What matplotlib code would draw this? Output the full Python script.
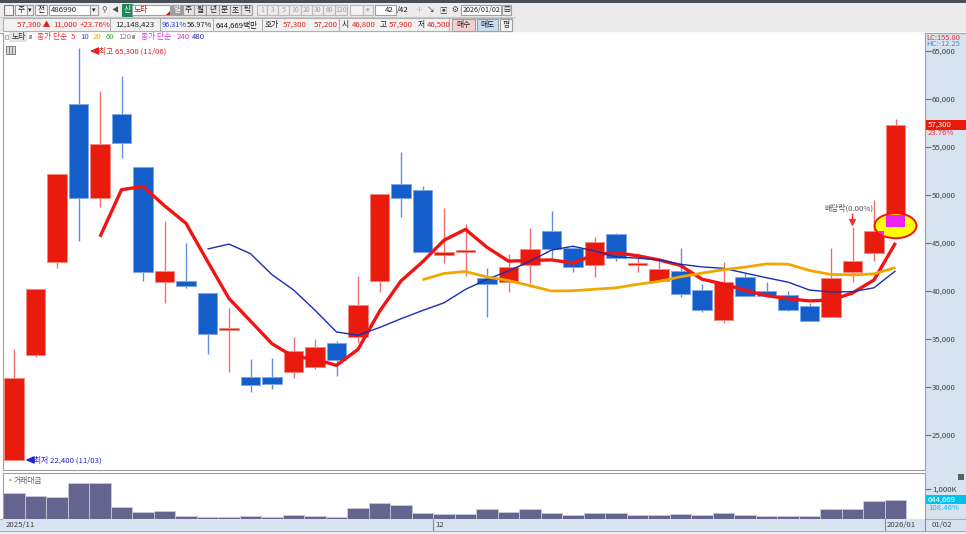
import numpy as np
import pandas as pd
import matplotlib
matplotlib.use("Agg")
import matplotlib.pyplot as plt
from matplotlib.patches import Rectangle, Ellipse, Polygon
from matplotlib.transforms import blended_transform_factory as blend

plt.rcParams['font.family'] = ['Noto Sans CJK KR', 'DejaVu Sans']

# ---------------- data ----------------
dates = ["2025/11/03", "2025/11/04", "2025/11/05", "2025/11/06", "2025/11/07",
         "2025/11/10", "2025/11/11", "2025/11/12", "2025/11/13", "2025/11/14",
         "2025/11/17", "2025/11/18", "2025/11/19", "2025/11/20", "2025/11/21",
         "2025/11/24", "2025/11/25", "2025/11/26", "2025/11/27", "2025/11/28",
         "2025/12/01", "2025/12/02", "2025/12/03", "2025/12/04", "2025/12/05",
         "2025/12/08", "2025/12/09", "2025/12/10", "2025/12/11", "2025/12/12",
         "2025/12/15", "2025/12/16", "2025/12/17", "2025/12/18", "2025/12/19",
         "2025/12/22", "2025/12/23", "2025/12/24", "2025/12/26", "2025/12/29",
         "2025/12/30", "2026/01/02"]
opens = [22400, 33350, 43000, 59450, 49650, 58400, 52900, 40950, 41000, 39750,
         36050, 31050, 31050, 31550, 32100, 34600, 35250, 41050, 51100, 50500,
         43800, 44150, 41400, 40950, 42750, 46200, 44450, 42750, 45950, 42800,
         41050, 42100, 40100, 37000, 41500, 39950, 39550, 38450, 37300, 42000,
         44000, 46800]
highs = [33950, 40200, 52200, 65300, 60850, 62400, 52900, 47300, 45000, 39750,
         38250, 32900, 33000, 35200, 35000, 34800, 41550, 50100, 54500, 50950,
         48600, 47000, 42350, 43850, 46600, 48350, 44600, 45650, 46000, 43950,
         43250, 44450, 40750, 43050, 41850, 40900, 39950, 38700, 44500, 46700,
         49500, 57900]
lows = [22400, 33150, 42350, 45200, 48700, 53900, 41050, 38700, 40300, 33450,
        31600, 29500, 29750, 30900, 31850, 31150, 34600, 39850, 47750, 44050,
        42900, 41550, 37300, 39850, 40850, 43400, 42000, 41500, 43150, 42000,
        41000, 39350, 37800, 36650, 39500, 39450, 37900, 36900, 37300, 40950,
        43150, 46500]
closes = [30900, 40200, 52200, 49650, 55300, 55400, 41950, 42100, 40500, 35500,
          36050, 30200, 30300, 33800, 34150, 32800, 38550, 50100, 49650, 44050,
          44100, 44200, 40750, 42450, 44400, 44400, 42550, 45150, 43450, 42800,
          42250, 39650, 38000, 40950, 39500, 39500, 38000, 36900, 41400, 43150,
          46300, 57300]
trade_value = [864000, 754000, 731000, 1196000, 1196000, 399000, 233000, 279000, 113000, 80000,
               56000, 90000, 56000, 123000, 90000, 56000, 356000, 522000, 455000, 199000,
               179000, 179000, 322000, 233000, 322000, 199000, 123000, 189000, 189000, 123000,
               123000, 156000, 123000, 189000, 123000, 90000, 90000, 90000, 322000, 322000,
               594400, 644669]
ma_periods = [5, 10, 20]
price_ticks = [25000, 30000, 35000, 40000, 45000, 50000, 55000, 60000, 65000]
exdiv_index = 39
signal_top = 47900

W, H = 966, 534
RED = "#e81b0c"
BLUE = "#135ec8"
RED_W = "#f07070"
BLUE_W = "#5f8fe0"
PANE = "#d8e3f0"
FS = 5.6

fig = plt.figure(figsize=(W / 100, H / 100), dpi=100)
fig.patch.set_facecolor("white")


def rect(x0, y0, x1, y1, fc, ec="none", lw=0.8, z=-1):
    fig.patches.append(Rectangle((x0 / W, 1 - y1 / H), (x1 - x0) / W, (y1 - y0) / H,
                                 transform=fig.transFigure, fc=fc, ec=ec, lw=lw, zorder=z))


def txt(x, y, s, color="#202020", size=FS, ha="left", va="center", z=5, **kw):
    fig.text(x / W, 1 - y / H, s, color=color, fontsize=size, ha=ha, va=va, zorder=z, **kw)


def hline(x0, x1, y, color, lw=0.8, z=-0.5):
    fig.add_artist(plt.Line2D([x0 / W, x1 / W], [1 - y / H, 1 - y / H], color=color, lw=lw,
                              transform=fig.transFigure, zorder=z))


def vline(x, y0, y1, color, lw=0.8, z=-0.5):
    fig.add_artist(plt.Line2D([x / W, x / W], [1 - y0 / H, 1 - y1 / H], color=color, lw=lw,
                              transform=fig.transFigure, zorder=z))


# ---------------- header ----------------
rect(0, 0, W, 3, "#4a4f57")
rect(0, 3, W, 32, "#ebebeb")
hline(0, W, 32.5, "#a8a8a8")
hline(0, 515, 17, "#c8c8c8")
# row 1
rect(4, 5, 13, 15, "#f4f4f4", "#808080")
rect(15, 5, 27, 15, "#f8f8f8", "#a0a0a0"); txt(21, 10, "주", ha="center")
rect(27, 5, 33, 15, "#f0f0f0", "#a0a0a0"); txt(30, 10, "▾", size=5, ha="center")
rect(35, 5, 47, 15, "#f8f8f8", "#a0a0a0"); txt(41, 10, "전", ha="center")
rect(49, 5, 90, 15, "white", "#a0a0a0"); txt(51, 10, "486990")
rect(90, 5, 98, 15, "#f0f0f0", "#a0a0a0"); txt(94, 10, "▾", size=5, ha="center")
rect(100, 5, 108, 15, "#f0f0f0", "none"); txt(104, 10, "⚲", ha="center", color="#505050")
rect(110, 5, 120, 15, "#f0f0f0", "none"); txt(115, 10, "◀", size=5, ha="center", color="#505050")
rect(122, 4, 132, 16, "#1e8a55", "#1e8a55"); txt(127, 10, "신", color="white", ha="center")
rect(132, 5, 170, 15, "white", "#a0a0a0"); txt(134, 10, "노타", color="#c01010")
fig.patches.append(Polygon([[166 / W, 1 - 15 / H], [170 / W, 1 - 15 / H], [170 / W, 1 - 11 / H]],
                           closed=True, transform=fig.transFigure, fc="#d01010", ec="none", zorder=0))
tabs = ["일", "주", "월", "년", "분", "초", "틱"]
tab_x = [171, 183, 194, 206, 219, 230, 241, 252]
for k, t in enumerate(tabs):
    sel = k == 0
    rect(tab_x[k], 5, tab_x[k + 1] - 0.5, 15, "#9c9c9c" if sel else "#e4e4e4", "#a0a0a0")
    txt((tab_x[k] + tab_x[k + 1]) / 2, 10, t, color="white" if sel else "#202020", ha="center")
nums = ["1", "3", "5", "10", "20", "30", "60", "120"]
num_x = [257, 267, 278, 289, 301, 312, 323, 335, 347]
for k, t in enumerate(nums):
    rect(num_x[k], 5, num_x[k + 1] - 0.5, 15, "#ececec", "#b8b8b8")
    txt((num_x[k] + num_x[k + 1]) / 2, 10, t, color="#a0a0a0", ha="center", size=5)
rect(350, 5, 363, 15, "#f4f4f4", "#b8b8b8")
rect(363, 5, 373, 15, "#ececec", "#b8b8b8"); txt(368, 10, "▾", size=5, ha="center", color="#a0a0a0")
rect(375, 5, 396, 15, "white", "#a0a0a0"); txt(394, 10, "42", ha="right")
txt(397, 10, "/42")
for xi in [414, 426, 438, 450]:
    rect(xi, 5, xi + 10, 15, "#ececec", "none")
txt(419, 10, "⊹", color="#909090", ha="center")
txt(431, 10, "↘", color="#404040", ha="center")
txt(443, 10, "▣", color="#404040", ha="center")
txt(455, 10, "⚙", color="#404040", ha="center")
rect(461, 5, 501, 15, "white", "#a0a0a0"); txt(462.5, 10, "2026/01/02", size=5.2)
rect(502, 5, 511, 15, "#f0f0f0", "#a0a0a0"); txt(506.5, 10, "▤", ha="center", size=5)
# row 2
rect(3, 18, 512, 31, "#f2f2f2", "#b0b0b0")
for xs in [110, 160, 213, 262, 339, 449]:
    vline(xs, 18, 31, "#b0b0b0", z=0)
txt(17, 25, "57,300 ▲", color="#e02020")
txt(53, 25, "11,000", color="#e02020")
txt(80, 25, "+23.76%", color="#e02020")
txt(115, 25, "12,148,423")
txt(162, 25, "96.31%", color="#2040d0", size=5.3)
txt(187, 25, "56.97%", size=5.3)
txt(216, 25, "644,669백만")
txt(265, 25, "호가")
txt(283, 25, "57,300", color="#e02020")
txt(314, 25, "57,200", color="#e02020")
txt(342, 25, "시")
txt(352, 25, "46,800", color="#e02020")
txt(380, 25, "고")
txt(389, 25, "57,900", color="#e02020")
txt(418, 25, "저")
txt(427, 25, "46,500", color="#e02020")
rect(452, 18.5, 475, 30.5, "#f3cfcf", "#a0a0a0", z=0); txt(463.5, 25, "매수", ha="center")
rect(477, 18.5, 498, 30.5, "#c9ddf2", "#a0a0a0", z=0); txt(487.5, 25, "매도", ha="center")
rect(500, 18.5, 512, 30.5, "#f4f4f4", "#a0a0a0", z=0); txt(506, 25, "평", ha="center")

# ---------------- panes ----------------
rect(925, 33, W, 531, PANE)
rect(0, 519, W, 531, PANE)
hline(0, W, 519, "#a0b0c0")
hline(0, W, 531, "#a0b0c0")
rect(0, 531, W, H, "#efefef")

n = len(closes)
x = np.arange(n)
o = np.array(opens, float); c = np.array(closes, float)
hi = np.array(highs, float); lo = np.array(lows, float)
vol = np.array(trade_value, float)

x0_px, x1_px = 3, 925
step_px, first_px = 21.5, 14
xlim = ((x0_px - first_px) / step_px, (x1_px - first_px) / step_px)


def p_of(y):  # pixel row -> price
    return 60000 - (y - 99) / 0.0096


ax = fig.add_axes([x0_px / W, 1 - 470 / H, (x1_px - x0_px) / W, (470 - 33) / H])
ax.set_xlim(*xlim)
ax.set_ylim(p_of(470), p_of(33))
ax.set_facecolor("white")

up = c >= o
min_h = 260
body_bot = np.minimum(o, c)
body_h = np.abs(c - o)
small = body_h < min_h
body_bot = np.where(small, body_bot - (min_h - body_h) / 2, body_bot)
body_h = np.where(small, min_h, body_h)
ax.vlines(x, lo, hi, colors=np.where(up, RED_W, BLUE_W), lw=1.0, zorder=2)
ax.bar(x, body_h, bottom=body_bot, width=0.93,
       color=np.where(up, RED, BLUE), edgecolor=np.where(up, "#f38a80", "#7ea6ea"),
       lw=0.7, zorder=3)

s = pd.Series(c)
ma_style = {5: ("#f21414", 2.4), 10: ("#1b2db0", 1.0), 20: ("#f0a800", 2.0)}
for p in ma_periods:
    col, lw = ma_style[p]
    ax.plot(x, s.rolling(p).mean(), color=col, lw=lw, zorder=4, solid_capstyle="butt")

# signal marker on last candle
last = n - 1
ax.add_patch(Ellipse((last, o[last]), 1.95, 2600, fc="#ffff00", ec="#ff1010", lw=1.4, zorder=5))
ax.add_patch(Rectangle((last - 0.465, o[last] - 100), 0.93, signal_top - o[last] + 100,
                       fc="#ee22ee", ec="none", zorder=6))
ax.add_patch(Polygon([[last - 1 + 0.2, c[last - 1] - 100], [last - 1 + 0.465, c[last - 1] - 100],
                      [last - 1 + 0.465, c[last - 1] - 650]], closed=True,
                     fc="#ee22ee", ec="none", zorder=6))

# high / low annotations
ih = int(np.argmax(hi)); il = int(np.argmin(lo))
for idx, val, col, lab, dy in [(ih, hi[ih], "#e82020", f"최고 {int(hi[ih]):,} ({dates[ih][5:]})", -3),
                                (il, lo[il], "#2020d0", f"최저 {int(lo[il]):,} ({dates[il][5:]})", 0)]:
    ax.annotate("", xy=(idx + 0.53, val + (dy * 100)), xytext=(idx + 0.53 + 9 / step_px, val + (dy * 100)),
                arrowprops=dict(arrowstyle="-|>,head_length=0.5,head_width=0.22", color=col, lw=1,
                                shrinkA=0, shrinkB=0), zorder=7)
    ax.annotate(lab, xy=(idx + 0.53, val), xytext=(9, dy), textcoords="offset pixels",
                color=col, fontsize=FS, va="center", ha="left", zorder=7)

# ex-dividend marker
ax.annotate("", xy=(exdiv_index, hi[exdiv_index]), xytext=(exdiv_index, hi[exdiv_index] + 1300),
            arrowprops=dict(arrowstyle="-|>,head_length=0.4,head_width=0.2", color="#f03030", lw=1,
                            shrinkA=0, shrinkB=0), zorder=7)
ax.annotate("배당락(0.00%)", xy=(exdiv_index, hi[exdiv_index]), xytext=(-4, 18),
            textcoords="offset pixels", color="#505050", fontsize=FS, ha="center", va="center")

# legend strip
rect(5, 35, 8, 38.5, "#f4f4f4", "#909090", lw=0.5, z=5)
rect(9, 32.5, 27, 41.5, "#e4e4e4", "none", z=5)
txt(12, 37, "노타", color="#303030")
rect(29, 35, 32, 38.5, "#a0a0a0", "none", z=5)
txt(37, 37, "종가 단순", color="#f03030")
txt(71, 37, "5", color="#f03030")
txt(80, 37, "10", color="#2f4fd0")
txt(93, 37, "20", color="#f0b000")
txt(106, 37, "60", color="#30b030")
txt(118, 37, "120", color="#808080")
rect(132, 35, 135, 38.5, "#a0a0a0", "none", z=5)
txt(141, 37, "종가 단순", color="#e030e0")
txt(177, 37, "240", color="#e030e0")
txt(192, 37, "480", color="#2020c0")
rect(6, 46, 15, 54, "#d8d8d8", "#707070", lw=0.6, z=5)
for xv in [9, 12]:
    vline(xv, 47, 53, "#707070", lw=0.6, z=6)

# price axis styling
ax.yaxis.tick_right()
ax.set_yticks(price_ticks)
ax.set_yticklabels([f"{v:,}" for v in price_ticks])
ax.tick_params(axis="y", direction="out", length=4, width=0.8, color="#707070",
               labelsize=FS, labelcolor="#404040", pad=1)
ax.set_xticks([])
ax.spines["top"].set_visible(False)
for side in ["left", "right", "bottom"]:
    ax.spines[side].set_color("#a0a0a0")
    ax.spines[side].set_linewidth(0.8)

# right-pane labels
txt(926, 37.5, "LC:155.80", color="#e83030", size=5.4)
fig.text(926 / W, 1 - 44 / H, "HC:-12.25", color="#4a86e0", fontsize=5.4, ha="left", va="center",
         zorder=6)
bt = blend(ax.transAxes, ax.transData)
ax.add_patch(Rectangle((1.0012, c[-1] - 520), 41 / 922, 1040, transform=bt, fc="#e81b0c",
                       ec="none", clip_on=False, zorder=8))
ax.text(1.003, c[-1], f"{int(c[-1]):,}", transform=bt, color="white", fontsize=FS,
        va="center", ha="left", zorder=9, clip_on=False)
chg = (c[-1] - c[-2]) / c[-2] * 100
ax.annotate(f"{chg:.2f}%", xy=(1.003, c[-1]), xycoords=bt, xytext=(0, -8.5),
            textcoords="offset pixels", color="#e83030", fontsize=FS, va="center", ha="left",
            annotation_clip=False)

# ---------------- volume pane ----------------
axv = fig.add_axes([x0_px / W, 1 - 519 / H, (x1_px - x0_px) / W, (519 - 473) / H], sharex=ax)
axv.set_ylim(0, 1.53e6)
axv.bar(x, vol, width=1.0, color="#64648f", edgecolor="#c9c9dc", lw=0.6, zorder=2)
axv.yaxis.tick_right()
axv.set_yticks([1_000_000])
axv.set_yticklabels(["1,000K"])
axv.tick_params(axis="y", direction="out", length=4, width=0.8, color="#707070",
                labelsize=FS, labelcolor="#404040", pad=1)
axv.tick_params(axis="x", bottom=False, labelbottom=False)
axv.spines["top"].set_color("#a0a0a0")
for side in ["left", "right", "bottom"]:
    axv.spines[side].set_color("#a0a0a0")
    axv.spines[side].set_linewidth(0.8)
axv.text(0.004, 0.83, "▪", transform=axv.transAxes, color="#909090", fontsize=5, va="center")
axv.text(0.012, 0.83, "거래대금", transform=axv.transAxes, color="#606060", fontsize=FS, va="center")
bv = blend(axv.transAxes, axv.transData)
axv.add_patch(Rectangle((1.0012, vol[-1] - 150000), 41 / 922, 300000, transform=bv,
                        fc="#00c2ef", ec="none", clip_on=False, zorder=8))
axv.text(1.003, vol[-1], f"{int(vol[-1]):,}", transform=bv, color="white", fontsize=FS,
         va="center", ha="left", zorder=9, clip_on=False)
vchg = vol[-1] / vol[-2] * 100
axv.annotate(f"{vchg:.2f}%", xy=(1.003, vol[-1]), xycoords=bv, xytext=(0, -8.5),
             textcoords="offset pixels", color="#18b8e8", fontsize=FS, va="center", ha="left",
             annotation_clip=False)
rect(958, 474, 964, 480, "#606060", "none", z=6)

# ---------------- date bar ----------------
axd = fig.add_axes([x0_px / W, 1 - 531 / H, (x1_px - x0_px) / W, 12 / H], sharex=ax)
axd.set_facecolor(PANE)
axd.set_ylim(0, 1)
axd.tick_params(left=False, bottom=False, labelleft=False, labelbottom=False)
for sp in axd.spines.values():
    sp.set_visible(False)
prev = None
for i, d in enumerate(dates):
    yy, mm, dd = d.split("/")
    if (yy, mm) != prev:
        lab = f"{yy}/{mm}" if (prev is None or yy != prev[0]) else mm
        if i > 0:
            axd.axvline(i - 0.5, color="#8090a0", lw=0.8)
        axd.text(i - 0.5 + 2 / step_px, 0.5, lab, color="#404040",
                 fontsize=FS, va="center", ha="left")
        prev = (yy, mm)
vline(925, 519, 531, "#8090a0", z=1)
txt(932, 525, dates[-1][5:], color="#404040")

fig.savefig("out.png", dpi=100)
